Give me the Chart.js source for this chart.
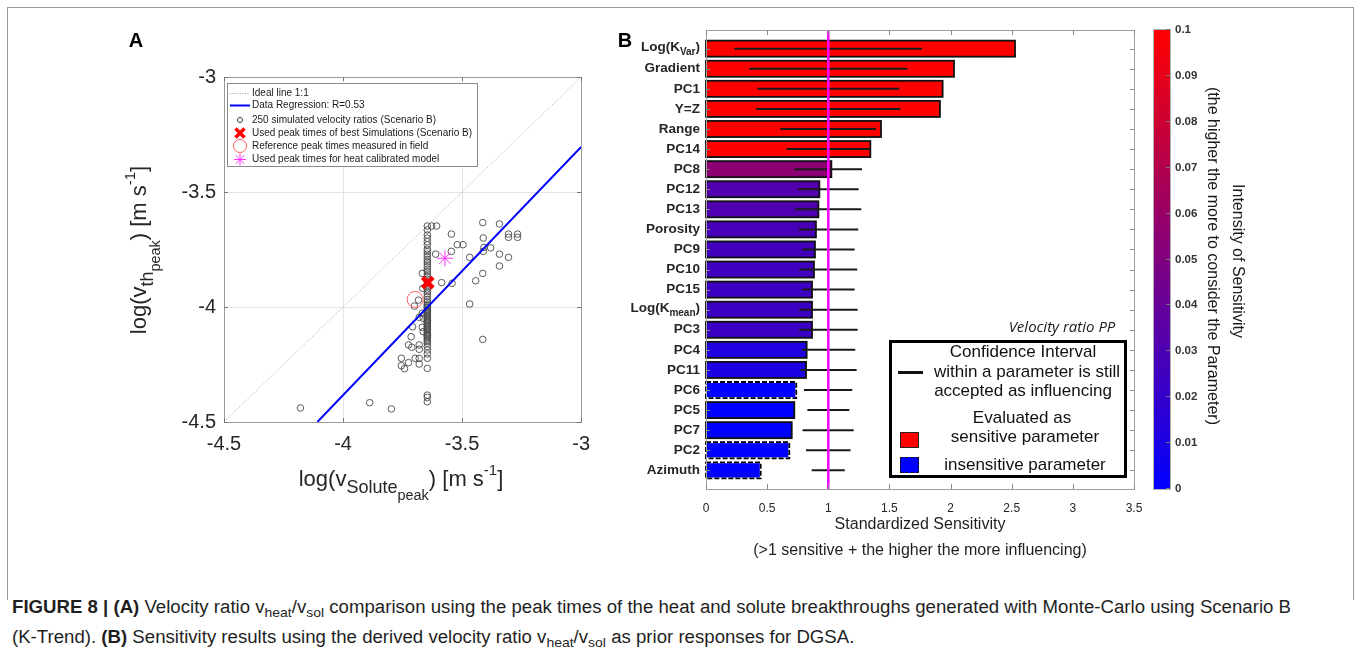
<!DOCTYPE html>
<html><head><meta charset="utf-8">
<script src="https://cdn.jsdelivr.net/npm/chart.js@4.4.1/dist/chart.umd.min.js"></script>
<style>
html,body{margin:0;padding:0;background:#fff;}
body{width:1360px;height:649px;position:relative;overflow:hidden;font-family:"Liberation Sans",Arial,Helvetica,sans-serif;color:#262626;}
.abs{position:absolute;white-space:nowrap;}
.ctr{position:absolute;white-space:nowrap;transform:translate(-50%,-50%);}
.rot{position:absolute;white-space:nowrap;transform:translate(-50%,-50%) rotate(90deg);}
.rotm{position:absolute;white-space:nowrap;transform:translate(-50%,-50%) rotate(-90deg);}
#frame{position:absolute;left:7px;top:7px;width:1345px;height:592px;border:1px solid #9a9a9a;border-bottom:none;}
.s1{font-size:0.82em;vertical-align:-0.38em;}
.s2{font-size:0.8em;vertical-align:-0.5em;}
.sp{font-size:0.68em;vertical-align:0.75em;}
#cap{font-family:"Liberation Sans Narrow","Arial Narrow","Liberation Sans",Arial,sans-serif;font-size:18px;color:#1f1f1f;transform-origin:0 50%;}
#cap sub{font-size:0.75em;vertical-align:-0.3em;}
</style>
</head>
<body>
<div id="frame"></div>

<div class="abs" style="left:0;top:0;width:600px;height:470px;"><canvas id="cA" width="600" height="470"></canvas></div>
<div class="abs" style="left:600px;top:0;width:560px;height:520px;"><canvas id="cB" width="560" height="520"></canvas></div>

<!-- panel labels -->
<div class="ctr" style="left:136px;top:40px;font-size:20px;font-weight:bold;color:#000;">A</div>
<div class="ctr" style="left:625px;top:40px;font-size:20px;font-weight:bold;color:#000;">B</div>

<!-- panel A axis titles -->
<div class="rotm" style="left:142px;top:250px;font-size:22px;">log(v<span class="s1">th<span class="s2">peak</span></span>) [m s<span class="sp">-1</span>]</div>
<div class="ctr" style="left:401px;top:482px;font-size:22px;">log(v<span class="s1">Solute<span class="s2">peak</span></span>) [m s<span class="sp">-1</span>]</div>

<!-- panel B axis titles -->
<div class="ctr" style="left:920px;top:524px;font-size:16px;color:#1f1f1f;">Standardized Sensitivity</div>
<div class="ctr" style="left:920px;top:550px;font-size:16px;color:#1f1f1f;">(&gt;1 sensitive + the higher the more influencing)</div>

<!-- panel B legend -->
<div class="ctr" style="left:1062px;top:326px;font-size:15px;font-style:italic;font-family:'Open Sans',sans-serif;color:#1a1a1a;">Velocity ratio PP</div>
<div class="abs" style="left:889px;top:340px;width:232px;height:132px;border:3px solid #000;background:#fff;"></div>
<div class="abs" style="left:898px;top:371px;width:25px;height:3px;background:#111;"></div>
<div class="ctr" style="left:1023px;top:352px;font-size:17px;color:#111;">Confidence Interval</div>
<div class="ctr" style="left:1027px;top:372px;font-size:17px;color:#111;">within a parameter is still</div>
<div class="ctr" style="left:1023px;top:391px;font-size:17px;color:#111;">accepted as influencing</div>
<div class="ctr" style="left:1022px;top:418px;font-size:17px;color:#111;">Evaluated as</div>
<div class="ctr" style="left:1025px;top:437px;font-size:17px;color:#111;">sensitive parameter</div>
<div class="ctr" style="left:1025px;top:465px;font-size:17px;color:#111;">insensitive parameter</div>
<div class="abs" style="left:900px;top:432px;width:17px;height:14px;background:#ff0000;border:1.5px solid #222;"></div>
<div class="abs" style="left:900px;top:457px;width:17px;height:14px;background:#0000ff;border:1.5px dashed #111;"></div>

<!-- colorbar -->
<div class="abs" style="left:1153px;top:29px;width:16px;height:459px;background:linear-gradient(to top,#0000ff,#ff0000);border:1px solid #b0b0b0;"></div>
<div id="cbTicks"></div>
<div class="rot" style="left:1213px;top:256px;font-size:16px;color:#1a1a1a;">(the higher the more to consider the Parameter)</div>
<div class="rot" style="left:1238px;top:261px;font-size:16px;color:#1a1a1a;">Intensity of Sensitivity</div>

<!-- caption -->
<div id="cap" class="abs" style="left:12px;top:595px;line-height:24px;">
<div id="cap1"><b>FIGURE 8 | (A)</b> Velocity ratio v<sub>heat</sub>/v<sub>sol</sub> comparison using the peak times of the heat and solute breakthroughs generated with Monte-Carlo using Scenario B</div>
<div id="cap2">(K-Trend). <b>(B)</b> Sensitivity results using the derived velocity ratio v<sub>heat</sub>/v<sub>sol</sub> as prior responses for DGSA.</div>
</div>

<script>
// ---------------- Panel A data ----------------
const axisTicksA = [-4.5, -4, -3.5, -3];
const columnX = -3.646;
const columnY = [-3.648,-3.665,-3.687,-3.701,-3.716,-3.730,-3.749,-3.759,-3.770,-3.781,-3.793,-3.803,-3.813,-3.825,-3.836,-3.846,-3.857,-3.868,-3.880,-3.890,-3.900,-3.912,-3.923,-3.933,-3.943,-3.955,-3.967,-3.977,-3.987,-3.993,-3.999,-4.004,-4.010,-4.015,-4.020,-4.025,-4.030,-4.036,-4.042,-4.048,-4.054,-4.059,-4.064,-4.069,-4.074,-4.080,-4.086,-4.092,-4.097,-4.103,-4.109,-4.114,-4.119,-4.124,-4.129,-4.136,-4.143,-4.150,-4.158,-4.172,-4.187,-4.204,-4.223,-4.267,-4.383,-4.393,-4.412];
const simX = [-3.628,-3.607,-3.413,-3.343,-3.545,-3.305,-3.305,-3.267,-3.267,-3.411,-3.520,-3.496,-3.408,-3.380,-3.411,-3.545,-3.611,-3.343,-3.305,-3.468,-3.343,-3.667,-3.413,-3.443,-3.586,-3.542,-3.665,-3.683,-3.700,-3.468,-3.667,-3.680,-3.663,-3.708,-3.667,-3.663,-3.714,-3.413,-3.725,-3.711,-3.680,-3.680,-3.755,-3.697,-3.680,-3.725,-3.680,-3.755,-3.742,-3.797,-4.179,-3.888];
const simY = [-3.648,-3.648,-3.633,-3.639,-3.683,-3.683,-3.697,-3.683,-3.697,-3.700,-3.729,-3.729,-3.741,-3.743,-3.758,-3.758,-3.770,-3.770,-3.784,-3.784,-3.822,-3.854,-3.854,-3.886,-3.894,-3.897,-3.919,-3.970,-3.996,-3.987,-4.027,-4.045,-4.049,-4.086,-4.088,-4.107,-4.129,-4.141,-4.165,-4.175,-4.165,-4.184,-4.223,-4.223,-4.223,-4.242,-4.248,-4.255,-4.268,-4.443,-4.439,-4.416];
const idealX = [-4.5, -3];
const idealY = [-4.5, -3];
const regX = [-4.108, -3.0];
const regY = [-4.5, -3.304];
const bestX = [-3.644], bestY = [-3.894];
const refX = [-3.697], refY = [-3.967];
const heatX = [-3.572], heatY = [-3.788];
const legendA = ["Ideal line 1:1","Data Regression: R=0.53","250 simulated velocity ratios (Scenario B)","Used peak times of best Simulations (Scenario B)","Reference peak times measured in field","Used peak times for heat calibrated model"];

// ---------------- Panel B data ----------------
const params = ["Log(K_Var)","Gradient","PC1","Y=Z","Range","PC14","PC8","PC12","PC13","Porosity","PC9","PC10","PC15","Log(K_mean)","PC3","PC4","PC11","PC6","PC5","PC7","PC2","Azimuth"];
const sensitivity = [2.527,2.028,1.935,1.913,1.431,1.344,1.025,0.927,0.919,0.899,0.891,0.883,0.867,0.867,0.867,0.823,0.818,0.738,0.722,0.701,0.681,0.447];
const ciLow  = [0.232,0.352,0.420,0.411,0.608,0.660,0.722,0.752,0.730,0.758,0.785,0.763,0.785,0.760,0.760,0.782,0.774,0.801,0.829,0.790,0.818,0.864];
const ciHigh = [1.766,1.646,1.581,1.590,1.390,1.341,1.276,1.248,1.270,1.245,1.216,1.237,1.216,1.240,1.240,1.221,1.232,1.196,1.172,1.208,1.182,1.135];
const intensity = [0.1,0.1,0.1,0.1,0.1,0.1,0.055,0.032,0.031,0.028,0.026,0.025,0.024,0.023,0.023,0.012,0.011,0,0,0,0,0];
const insensitive = [false,false,false,false,false,false,false,false,false,false,false,false,false,false,false,false,false,true,false,false,true,true];
const threshold = 1;
const xTicksB = [0,0.5,1,1.5,2,2.5,3,3.5];
const cbTicks = [0.1,0.09,0.08,0.07,0.06,0.05,0.04,0.03,0.02,0.01,0];

function cmap(v){ const t=Math.max(0,Math.min(1,v/0.1)); return `rgb(${Math.round(255*t)},0,${Math.round(255*(1-t))})`; }
const pts = (xs,ys)=>xs.map((x,i)=>({x:x,y:ys[i]}));
const plainNum = v => String(Math.round(v*1000)/1000);

// ---------------- Chart A ----------------
const boxA = {
  id:'boxA',
  afterDatasetsDraw(chart){
    const {ctx, chartArea:a, scales:{x,y}} = chart;
    ctx.save();
    ctx.strokeStyle='#9a9a9a'; ctx.lineWidth=1;
    ctx.strokeRect(Math.round(a.left)+0.5, Math.round(a.top)+0.5, Math.round(a.right-a.left), Math.round(a.bottom-a.top));
    ctx.strokeStyle='#777';
    axisTicksA.forEach(v=>{
      const px=Math.round(x.getPixelForValue(v))+0.5, py=Math.round(y.getPixelForValue(v))+0.5;
      ctx.beginPath();
      ctx.moveTo(px,a.bottom); ctx.lineTo(px,a.bottom-4);
      ctx.moveTo(px,a.top); ctx.lineTo(px,a.top+4);
      ctx.moveTo(a.left,py); ctx.lineTo(a.left+4,py);
      ctx.moveTo(a.right,py); ctx.lineTo(a.right-4,py);
      ctx.stroke();
    });
    // legend
    const L=227.5,T=83.5,W=250,H=83;
    ctx.fillStyle='#fff'; ctx.fillRect(L,T,W,H);
    ctx.strokeStyle='#8a8a8a'; ctx.lineWidth=1; ctx.strokeRect(L,T,W,H);
    const ys=[93.5,105.5,120,133,146,159.5];
    ctx.font='10px "Liberation Sans", Arial, sans-serif'; ctx.fillStyle='#1a1a1a'; ctx.textBaseline='middle'; ctx.textAlign='left';
    legendA.forEach((t,i)=>ctx.fillText(t,252,ys[i]));
    ctx.strokeStyle='#9a9a9a'; ctx.setLineDash([1,1.5]); ctx.beginPath(); ctx.moveTo(230,ys[0]); ctx.lineTo(250,ys[0]); ctx.stroke(); ctx.setLineDash([]);
    ctx.strokeStyle='#0000ff'; ctx.lineWidth=2; ctx.beginPath(); ctx.moveTo(230,ys[1]); ctx.lineTo(250,ys[1]); ctx.stroke();
    ctx.strokeStyle='#4a4a4a'; ctx.lineWidth=1; ctx.beginPath(); ctx.arc(240,ys[2],2.6,0,Math.PI*2); ctx.stroke();
    ctx.strokeStyle='#ff0000'; ctx.lineWidth=3.5; ctx.beginPath(); ctx.moveTo(235.5,ys[3]-4.5); ctx.lineTo(244.5,ys[3]+4.5); ctx.moveTo(244.5,ys[3]-4.5); ctx.lineTo(235.5,ys[3]+4.5); ctx.stroke();
    ctx.strokeStyle='#ff6060'; ctx.lineWidth=1; ctx.beginPath(); ctx.arc(240,ys[4],6.5,0,Math.PI*2); ctx.stroke();
    ctx.strokeStyle='#ff33ff'; ctx.lineWidth=1; ctx.beginPath();
    for(let k=0;k<4;k++){const an=k*Math.PI/4; ctx.moveTo(240-6*Math.cos(an),ys[5]-6*Math.sin(an)); ctx.lineTo(240+6*Math.cos(an),ys[5]+6*Math.sin(an));}
    ctx.stroke();
    ctx.restore();
  }
};

new Chart(document.getElementById('cA'),{
  type:'scatter',
  data:{datasets:[
    {data:pts(idealX,idealY),showLine:true,borderColor:'#a0a0a0',borderWidth:1,borderDash:[1,2],pointRadius:0,order:6},
    {data:columnY.map(v=>({x:columnX,y:v})),pointStyle:'circle',pointRadius:3.3,borderColor:'#4a4a4a',borderWidth:0.9,backgroundColor:'rgba(0,0,0,0)',order:5},
    {data:pts(simX,simY),pointStyle:'circle',pointRadius:3.3,borderColor:'#4a4a4a',borderWidth:0.9,backgroundColor:'rgba(0,0,0,0)',order:5},
    {data:pts(regX,regY),showLine:true,borderColor:'#0000ff',borderWidth:2,pointRadius:0,order:4},
    {data:pts(refX,refY),pointStyle:'circle',pointRadius:8,borderColor:'#ff6060',borderWidth:1,backgroundColor:'rgba(0,0,0,0)',order:3},
    {data:pts(heatX,heatY),pointStyle:'star',pointRadius:8,borderColor:'#ff33ff',borderWidth:1,order:2},
    {data:pts(bestX,bestY),pointStyle:'crossRot',pointRadius:7.5,borderColor:'#ff0000',borderWidth:4.5,order:1}
  ]},
  options:{
    responsive:false,animation:false,
    layout:{padding:{left:0,top:77,right:16,bottom:0}},
    plugins:{legend:{display:false},tooltip:{enabled:false}},
    scales:{
      x:{type:'linear',min:-4.5,max:-3,
        ticks:{stepSize:0.5,font:{size:20,family:'"Liberation Sans", Arial'},color:'#262626',padding:10,maxRotation:0,callback:plainNum},
        grid:{color:'#e4e4e4',drawTicks:false},border:{display:false},
        afterFit(s){s.height=48;}},
      y:{type:'linear',min:-4.5,max:-3,
        ticks:{stepSize:0.5,font:{size:20,family:'"Liberation Sans", Arial'},color:'#262626',padding:8,callback:plainNum},
        grid:{color:'#e4e4e4',drawTicks:false},border:{display:false},
        afterFit(s){s.width=224;}}
    }
  },
  plugins:[boxA]
});

// ---------------- Chart B ----------------
const decoB = {
  id:'decoB',
  afterDatasetsDraw(chart){
    const {ctx, chartArea:a, scales:{x,y}} = chart;
    const meta = chart.getDatasetMeta(0);
    ctx.save();
    meta.data.forEach((el,i)=>{
      const l=Math.min(el.base,el.x), r=Math.max(el.base,el.x), t=el.y-el.height/2, h=el.height;
      if(insensitive[i]){
        ctx.setLineDash([]); ctx.strokeStyle='#ffffff'; ctx.lineWidth=1.8; ctx.strokeRect(l,t,r-l,h);
        ctx.setLineDash([5,2]); ctx.strokeStyle='#000'; ctx.strokeRect(l,t,r-l,h); ctx.setLineDash([]);
      } else {
        ctx.strokeStyle='#111'; ctx.lineWidth=1.8; ctx.strokeRect(l,t,r-l,h);
      }
    });
    ctx.strokeStyle='#1a1a1a'; ctx.lineWidth=2;
    params.forEach((p,i)=>{
      const py=y.getPixelForValue(i+1);
      ctx.beginPath(); ctx.moveTo(x.getPixelForValue(ciLow[i]),py); ctx.lineTo(x.getPixelForValue(ciHigh[i]),py); ctx.stroke();
    });
    const tx=x.getPixelForValue(threshold);
    ctx.strokeStyle='#ff00ff'; ctx.lineWidth=2.5;
    ctx.beginPath(); ctx.moveTo(tx,a.top); ctx.lineTo(tx,a.bottom); ctx.stroke();
    ctx.strokeStyle='#a0a0a0'; ctx.lineWidth=1;
    ctx.strokeRect(Math.round(a.left)+0.5, Math.round(a.top)+0.5, Math.round(a.right-a.left), Math.round(a.bottom-a.top));
    ctx.strokeStyle='#888';
    xTicksB.forEach(v=>{const px=Math.round(x.getPixelForValue(v))+0.5; ctx.beginPath(); ctx.moveTo(px,a.bottom); ctx.lineTo(px,a.bottom-5); ctx.moveTo(px,a.top); ctx.lineTo(px,a.top+5); ctx.stroke();});
    params.forEach((p,i)=>{const py=Math.round(y.getPixelForValue(i+1))+0.5; ctx.beginPath(); ctx.moveTo(a.left,py); ctx.lineTo(a.left+4,py); ctx.moveTo(a.right,py); ctx.lineTo(a.right-4,py); ctx.stroke();});
    ctx.fillStyle='#262626'; ctx.textBaseline='middle'; ctx.textAlign='left';
    const fMain='bold 13.5px "Liberation Sans", Arial, sans-serif', fSub='bold 10px "Liberation Sans", Arial, sans-serif';
    const rightX=a.left-6;
    params.forEach((p,i)=>{
      const py=y.getPixelForValue(i+1);
      const m=p.match(/^(.*)_([^)]*)(\).*)$/);
      if(m){
        ctx.font=fMain; const w1=ctx.measureText(m[1]).width, w3=ctx.measureText(m[3]).width;
        ctx.font=fSub; const w2=ctx.measureText(m[2]).width;
        let sx=rightX-(w1+w2+w3);
        ctx.font=fMain; ctx.fillText(m[1],sx,py-1); sx+=w1;
        ctx.font=fSub; ctx.fillText(m[2],sx,py+4); sx+=w2;
        ctx.font=fMain; ctx.fillText(m[3],sx,py-1);
      } else {
        ctx.font=fMain; ctx.textAlign='right'; ctx.fillText(p,rightX,py); ctx.textAlign='left';
      }
    });
    ctx.restore();
  }
};

new Chart(document.getElementById('cB'),{
  type:'bar',
  data:{datasets:[{
    data:sensitivity.map((v,i)=>({x:v,y:i+1})),
    backgroundColor:intensity.map(cmap),
    borderWidth:0,barPercentage:0.8,categoryPercentage:1
  }]},
  options:{
    indexAxis:'y',responsive:false,animation:false,
    layout:{padding:{left:0,top:30,right:26,bottom:0}},
    plugins:{legend:{display:false},tooltip:{enabled:false}},
    scales:{
      x:{type:'linear',min:0,max:3.5,offset:false,
        ticks:{stepSize:0.5,font:{size:12,family:'"Liberation Sans", Arial'},color:'#262626',padding:4,maxRotation:0,callback:plainNum},
        grid:{display:false},border:{display:false},
        afterFit(s){s.height=31;}},
      y:{type:'linear',reverse:true,min:0.07,max:22.93,offset:false,
        ticks:{display:false},grid:{display:false,offset:false},border:{display:false},
        afterFit(s){s.width=106;}}
    }
  },
  plugins:[decoB]
});

(function(){
  const host=document.getElementById('cbTicks');
  cbTicks.forEach((v,i)=>{
    const yy=29+i*45.9;
    const d=document.createElement('div'); d.className='abs';
    d.style.cssText=`left:1175px;top:${yy-7}px;font-size:11.5px;font-weight:bold;color:#333;line-height:14px;`;
    d.textContent=String(v); host.appendChild(d);
    const t=document.createElement('div'); t.className='abs';
    t.style.cssText=`left:1166px;top:${Math.round(yy)}px;width:4px;height:1px;background:#777;`;
    host.appendChild(t);
  });
})();

(function(){
  const c1=document.getElementById('cap1');
  c1.style.display='inline-block';
  const w=c1.getBoundingClientRect().width;
  c1.style.display='block';
  const s=1279/w;
  document.getElementById('cap').style.transform=`scaleX(${s})`;
})();
</script>
</body></html>
